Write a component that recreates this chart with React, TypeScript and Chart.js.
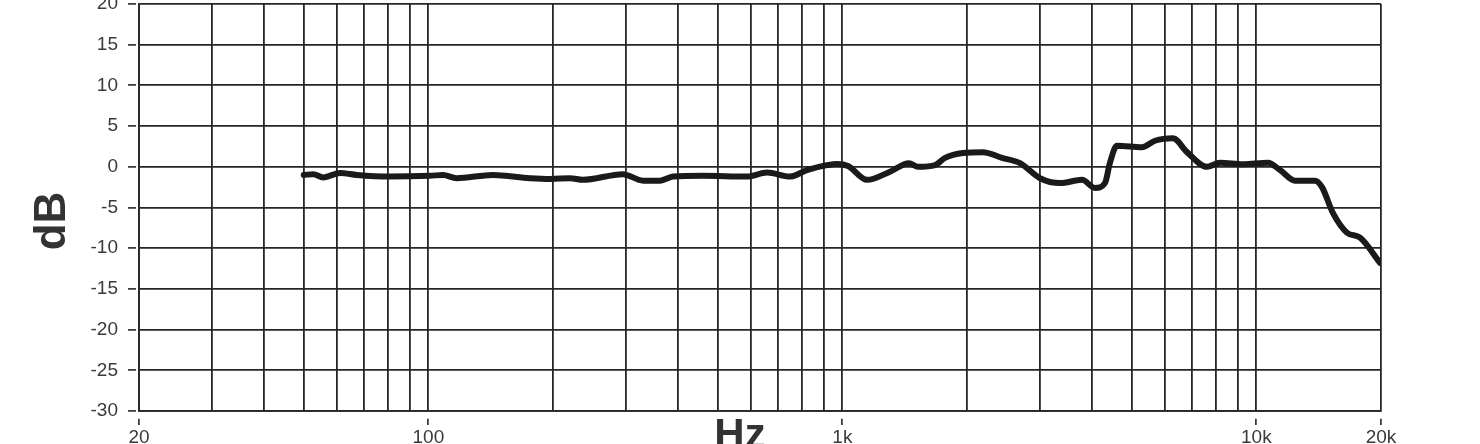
import React, { useEffect, useRef } from "react";
import { Chart, registerables } from "chart.js";

Chart.register(...registerables);

const FREQS = [50, 52.7, 55.7, 61.2, 67.2, 80.8, 100.9, 108.5, 117, 143, 176, 197, 220, 236, 295, 330, 363, 390, 461, 588, 658, 747, 821, 918, 971, 1032, 1147, 1303, 1448, 1523, 1674, 1770, 1956, 2186, 2430, 2686, 3002, 3355, 3792, 4075, 4308, 4430, 4605, 5293, 5690, 6290, 6800, 7598, 8168, 9284, 10668, 11404, 12398, 13856, 14406, 15314, 16556, 17800, 19890];
const DB = [-1.0, -0.9, -1.3, -0.75, -1.0, -1.2, -1.1, -1.0, -1.4, -1.0, -1.4, -1.5, -1.4, -1.6, -0.9, -1.7, -1.7, -1.2, -1.1, -1.2, -0.7, -1.2, -0.4, 0.2, 0.35, 0.1, -1.6, -0.6, 0.45, 0, 0.2, 1.1, 1.7, 1.8, 1.1, 0.45, -1.4, -2.0, -1.6, -2.6, -2.0, 0.5, 2.6, 2.4, 3.2, 3.5, 1.8, 0, 0.5, 0.3, 0.5, -0.4, -1.7, -1.7, -2.5, -5.7, -8.1, -8.7, -11.8];

const X_GRID = [20, 30, 40, 50, 60, 70, 80, 90, 100, 200, 300, 400, 500, 600, 700, 800, 900, 1000, 2000, 3000, 4000, 5000, 6000, 7000, 8000, 9000, 10000, 20000];
const X_LABELS: Record<number, string> = { 20: "20", 100: "100", 1000: "1k", 10000: "10k", 20000: "20k" };
const Y_TITLE = "dB";
const X_TITLE = "Hz";

const GRID = "#262626";
const TEXT = "#3a3a3a";
const FONT = "'Liberation Sans', Arial, sans-serif";

const titlePlugin = {
  id: "axisTitles",
  afterDraw(chart: any) {
    const ctx = chart.ctx;
    ctx.save();
    ctx.fillStyle = "#333";
    ctx.font = `bold 44px ${FONT}`;
    ctx.textAlign = "center";
    ctx.textBaseline = "middle";
    ctx.translate(53, 221);
    ctx.rotate(-Math.PI / 2);
    ctx.fillText(Y_TITLE, 0, 0);
    ctx.restore();
    ctx.save();
    ctx.fillStyle = "#333";
    ctx.font = `bold 42px ${FONT}`;
    ctx.textAlign = "center";
    ctx.textBaseline = "alphabetic";
    ctx.fillText(X_TITLE, 740, 448);
    ctx.restore();
  },
};

export default function App() {
  const ref = useRef<HTMLCanvasElement | null>(null);
  useEffect(() => {
    if (!ref.current) return;
    const chart = new Chart(ref.current, {
      type: "line",
      data: {
        datasets: [
          {
            data: FREQS.map((f, i) => ({ x: f, y: DB[i] })),
            borderColor: "#1a1a1a",
            borderWidth: 6,
            pointRadius: 0,
            tension: 0.3,
            cubicInterpolationMode: "monotone",
            borderCapStyle: "round",
            borderJoinStyle: "round",
            fill: false,
          },
        ],
      },
      options: {
        animation: false,
        responsive: true,
        maintainAspectRatio: false,
        layout: { padding: { left: 0, right: 99, top: 4, bottom: 0 } },
        plugins: { legend: { display: false }, tooltip: { enabled: false } },
        scales: {
          x: {
            type: "logarithmic",
            min: 20,
            max: 20000,
            afterBuildTicks: (scale: any) => {
              scale.ticks = X_GRID.map((v) => ({ value: v }));
            },
            afterFit: (scale: any) => {
              scale.height = 33;
              scale.paddingLeft = 0;
              scale.paddingRight = 0;
            },
            border: { display: true, color: GRID, width: 1.8 },
            grid: {
              color: GRID,
              lineWidth: 1.8,
              drawTicks: true,
              tickLength: 14,
              tickWidth: 1.6,
              tickBorderDash: [7, 7],
              tickBorderDashOffset: 7,
              tickColor: (ctx: any) => (ctx.tick && X_LABELS[ctx.tick.value] ? GRID : "rgba(0,0,0,0)"),
            },
            ticks: {
              autoSkip: false,
              maxRotation: 0,
              padding: 1,
              color: TEXT,
              font: { family: FONT, size: 19 },
              callback: (v: any) => X_LABELS[Number(v)] ?? "",
            },
          },
          y: {
            type: "linear",
            min: -30,
            max: 20,
            afterFit: (scale: any) => {
              scale.width = 139;
              scale.paddingTop = 0;
              scale.paddingBottom = 0;
            },
            border: { display: true, color: GRID, width: 1.8 },
            grid: {
              color: GRID,
              lineWidth: 1.8,
              drawTicks: true,
              tickLength: 11,
              tickWidth: 1.6,
              tickBorderDash: [8, 3],
              tickColor: GRID,
            },
            ticks: {
              stepSize: 5,
              padding: 10,
              color: TEXT,
              font: { family: FONT, size: 19 },
            },
          },
        },
      },
      plugins: [titlePlugin],
    } as any);
    return () => chart.destroy();
  }, []);
  return (
    <div style={{ position: "fixed", left: 0, top: 0, width: 1480, height: 444, background: "#fff" }}>
      <canvas ref={ref} />
    </div>
  );
}
